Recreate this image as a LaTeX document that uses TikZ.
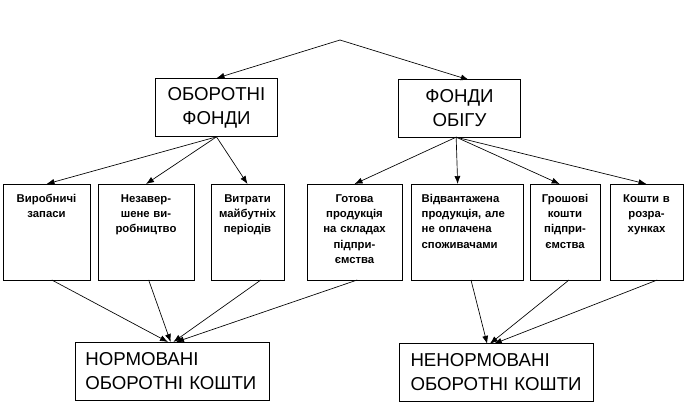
\documentclass[tikz,border=0pt]{standalone}
\usepackage{fontspec}
\setmainfont{Liberation Sans}
\usetikzlibrary{arrows.meta}

\begin{document}
\begin{tikzpicture}[x=0.75pt,y=-0.75pt,>={Latex[length=6pt,width=4.5pt]},
    fund/.style={draw,line width=0.6pt,outer sep=0pt,inner sep=0pt,align=center,font=\fontsize{14}{18}\selectfont},
    cell/.style={draw,line width=0.6pt,outer sep=0pt,anchor=north west,inner xsep=2pt,inner ysep=4.5pt,text height=9pt,text depth=54pt,align=center,font=\bfseries\fontsize{8.5}{11.6}\selectfont},
    link/.style={->,line width=0.5pt}]
    \useasboundingbox (0,0) rectangle (686,408);
    \coordinate (top) at (340,40);
    \node[fund,minimum width=92pt,minimum height=44pt] (of) at (216.5,107.5) {ОБОРОТНІ\\ФОНДИ};
    \node[fund,minimum width=91pt,minimum height=43pt] (fo) at (459.5,108.5) {ФОНДИ\\ОБІГУ};
    \node[cell,text width=61.25pt] (vz) at (3,184) {Виробничі\\запаси};
    \node[cell,text width=68pt] (nv) at (98,184) {Незавер-\\шене ви-\\робництво};
    \node[cell,text width=50.75pt] (vm) at (211,184) {Витрати\\майбутніх\\періодів};
    \node[cell,text width=67.25pt] (gp) at (307,184) {Готова\\продукція\\на складах\\підпри-\\ємства};
    \node[cell,text width=68pt,inner xsep=8pt,align=left] (vp) at (411,184) {Відвантажена\\продукція, але\\не оплачена\\споживачами};
    \node[cell,text width=48.5pt] (gk) at (530,184) {Грошові\\кошти\\підпри-\\ємства};
    \node[cell,text width=50.75pt] (kr) at (610,184) {Кошти в\\розра-\\хунках};
    \node[fund,minimum width=145.5pt,minimum height=43.5pt,text width=130pt,align=left] (nk) at (172,371) {НОРМОВАНІ\\ОБОРОТНІ КОШТИ};
    \node[fund,minimum width=145pt,minimum height=43pt,text width=129pt,align=left] (nn) at (496.5,372.5) {НЕНОРМОВАНІ\\ОБОРОТНІ КОШТИ};
    \draw[link] (top) -- (of.north);
    \draw[link] (top) -- ([xshift=7pt]fo.north);
    \draw[link] (of.south) -- (vz.north);
    \draw[link] (of.south) -- (nv.north);
    \draw[link] (of.south) -- (vm.north);
    \draw[link] ([xshift=-2.5pt]fo.south) -- (gp.north);
    \draw[link] ([xshift=-2.5pt]fo.south) -- ([xshift=-7pt]vp.north);
    \draw[link] ([xshift=-2.5pt]fo.south) -- ([xshift=-4pt]gk.north);
    \draw[link] ([xshift=-2.5pt]fo.south) -- (kr.north);
    \draw[link] ([xshift=4pt]vz.south) -- ([xshift=-3pt]nk.north);
    \draw[link] ([xshift=2pt]nv.south) -- ([xshift=-1pt]nk.north);
    \draw[link] ([xshift=10pt]vm.south) -- ([xshift=1pt]nk.north);
    \draw[link] ([xshift=2pt]gp.south) -- ([xshift=3pt]nk.north);
    \draw[link] ([xshift=3pt]vp.south) -- ([xshift=-7pt]nn.north);
    \draw[link] ([xshift=3pt]gk.south) -- ([xshift=-5pt]nn.north);
    \draw[link] ([xshift=8pt]kr.south) -- ([xshift=-2pt]nn.north);
\end{tikzpicture}
\end{document}
